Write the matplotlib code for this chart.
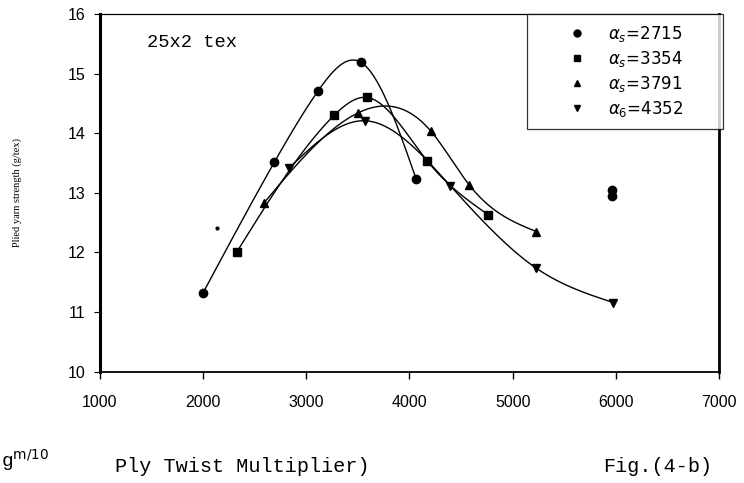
import numpy as np
import matplotlib
matplotlib.use("Agg")
import matplotlib.pyplot as plt
from matplotlib.lines import Line2D

# ---- data ----
x_2715 = [2000, 2690, 3115, 3530, 4065]
y_2715 = [11.32, 13.51, 14.71, 15.19, 13.23]

x_3354 = [2325, 3270, 3590, 4170, 4765]
y_3354 = [12.00, 14.30, 14.60, 13.54, 12.63]

x_3791 = [2590, 3500, 4210, 4580, 5230]
y_3791 = [12.83, 14.34, 14.03, 13.13, 12.35]

x_4352 = [2830, 3565, 4395, 5225, 5975]
y_4352 = [13.41, 14.21, 13.12, 11.74, 11.16]

stray_x = [5960, 5960]
stray_y = [12.95, 13.04]
dot_x = [2140]
dot_y = [12.41]

labels = [r"$\alpha_s$=2715", r"$\alpha_s$=3354", r"$\alpha_s$=3791", r"$\alpha_6$=4352"]
markers = ["o", "s", "^", "v"]
xticks = [1000, 2000, 3000, 4000, 5000, 6000, 7000]
yticks = [10, 11, 12, 13, 14, 15, 16]


def natural_spline(x, y, n=300):
    x = np.asarray(x, float)
    y = np.asarray(y, float)
    k = len(x)
    h = np.diff(x)
    A = np.zeros((k, k))
    b = np.zeros(k)
    A[0, 0] = 1
    A[-1, -1] = 1
    for i in range(1, k - 1):
        A[i, i - 1] = h[i - 1]
        A[i, i] = 2 * (h[i - 1] + h[i])
        A[i, i + 1] = h[i]
        b[i] = 6 * ((y[i + 1] - y[i]) / h[i] - (y[i] - y[i - 1]) / h[i - 1])
    M = np.linalg.solve(A, b)
    xs = np.linspace(x[0], x[-1], n)
    idx = np.clip(np.searchsorted(x, xs) - 1, 0, k - 2)
    x0, x1 = x[idx], x[idx + 1]
    hh = x1 - x0
    t1 = x1 - xs
    t0 = xs - x0
    ys = (M[idx] * t1 ** 3 / (6 * hh) + M[idx + 1] * t0 ** 3 / (6 * hh)
          + (y[idx] / hh - M[idx] * hh / 6) * t1
          + (y[idx + 1] / hh - M[idx + 1] * hh / 6) * t0)
    return xs, ys


fig = plt.figure(figsize=(7.44, 4.83), dpi=100)
ax = fig.add_axes([0.134, 0.2304, 0.8327, 0.7406])

series = [(x_2715, y_2715), (x_3354, y_3354), (x_3791, y_3791), (x_4352, y_4352)]
handles = []
for (xs, ys), m, lab in zip(series, markers, labels):
    lx, ly = natural_spline(xs, ys)
    ax.plot(lx, ly, color="black", lw=1.0)
    ax.plot(xs, ys, linestyle="none", marker=m, color="black", markersize=6)
    handles.append(Line2D([], [], linestyle="none", marker=m, color="black", markersize=5))

ax.plot(stray_x, stray_y, linestyle="none", marker="o", color="black", markersize=6)
ax.plot(dot_x, dot_y, linestyle="none", marker="o", color="black", markersize=2)

ax.set_xlim(1000, 7000)
ax.set_ylim(10, 16)
ax.set_xticks(xticks)
ax.set_yticks(yticks)
ax.tick_params(axis="x", direction="out", length=5, width=1, pad=12)
ax.tick_params(axis="y", direction="out", length=4, width=0.8, pad=6)
for lab in ax.get_xticklabels() + ax.get_yticklabels():
    lab.set_fontfamily("Liberation Sans")
    lab.set_fontsize(11.5)

ax.spines["left"].set_linewidth(2.2)
ax.spines["right"].set_linewidth(2.0)
ax.spines["top"].set_linewidth(0.9)
ax.spines["bottom"].set_linewidth(1.3)

ax.set_ylabel("Plied yarn strength (g/tex)", family="Liberation Serif", fontsize=7.5, labelpad=33)

ax.text(0.077, 0.92, "25x2 tex", transform=ax.transAxes, family="Liberation Mono",
        fontsize=13.5, va="center", ha="left")

leg = ax.legend(handles, labels, loc="upper left", bbox_to_anchor=(0.690, 1.0, 0.316, 0.0),
                mode="expand", borderaxespad=0, frameon=True, fancybox=False, edgecolor="black",
                prop={"family": "DejaVu Sans", "size": 12}, handletextpad=-0.55,
                borderpad=0.6, labelspacing=0.3, handlelength=4.8)
leg.get_frame().set_linewidth(0.9)

fig.text(1, 483 - 460, "g$^{\\mathrm{m}/10}$", transform=None, family="Liberation Mono",
         fontsize=14, ha="left", va="center")
fig.text(115 / 744, 1 - 467 / 483, "Ply Twist Multiplier)", family="Liberation Mono",
         fontsize=14.5, ha="left", va="center")
fig.text(603 / 744, 1 - 467 / 483, "Fig.(4-b)", family="Liberation Mono",
         fontsize=14.5, ha="left", va="center")

fig.savefig("out.png", dpi=100)
